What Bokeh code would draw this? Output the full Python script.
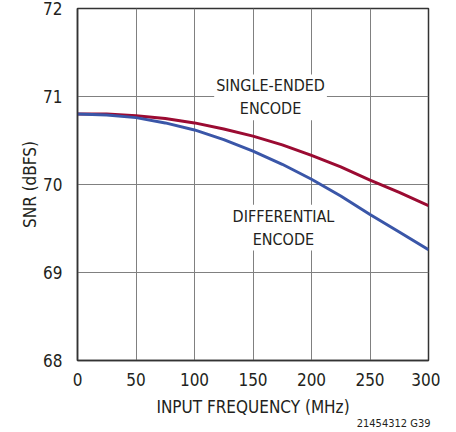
from bokeh.plotting import figure
from bokeh.models import Label, Range1d, FixedTicker, Title
from bokeh.embed import file_html
from bokeh.resources import INLINE

freq = [0, 25, 50, 75, 100, 125, 150, 175, 200, 225, 250, 275, 300]
snr_single = [70.80, 70.80, 70.78, 70.75, 70.70, 70.63, 70.55, 70.45, 70.33, 70.20, 70.05, 69.91, 69.76]
snr_diff = [70.80, 70.79, 70.76, 70.70, 70.62, 70.51, 70.38, 70.23, 70.06, 69.87, 69.66, 69.46, 69.26]
x_ticks = [0, 50, 100, 150, 200, 250, 300]
y_ticks = [68, 69, 70, 71, 72]

FONT = "'Liberation Sans Narrow', 'DejaVu Sans Condensed', 'Roboto', sans-serif"
TXT = "#231f20"
RED = "#9b0b32"
BLUE = "#3a56a8"

p = figure(frame_width=351, frame_height=352, output_backend="svg", toolbar_location=None,
           x_range=Range1d(0, 300), y_range=Range1d(68, 72),
           min_border_left=77, min_border_top=8, min_border_right=12, min_border_bottom=72)

p.outline_line_color = "#333333"
p.outline_line_width = 1.5
p.background_fill_color = "white"
p.border_fill_color = "white"

for ax in (p.xaxis[0], p.yaxis[0]):
    ax.axis_line_color = "#333333"
    ax.axis_line_width = 1.5
    ax.major_tick_line_color = None
    ax.minor_tick_line_color = None
    ax.major_label_text_font = FONT
    ax.major_label_text_font_size = "17px"
    ax.major_label_text_color = TXT
    ax.axis_label_text_font = FONT
    ax.axis_label_text_font_size = "17px"
    ax.axis_label_text_font_style = "normal"
    ax.axis_label_text_color = TXT

p.xaxis.ticker = FixedTicker(ticks=x_ticks)
p.yaxis.ticker = FixedTicker(ticks=y_ticks)
p.xaxis.axis_label = "INPUT FREQUENCY (MHz)"
p.yaxis.axis_label = "SNR (dBFS)"
p.xaxis.major_label_standoff = 6
p.yaxis.major_label_standoff = 9
p.xaxis.axis_label_standoff = 8
p.yaxis.axis_label_standoff = 0

p.xgrid.ticker = FixedTicker(ticks=x_ticks)
p.ygrid.ticker = FixedTicker(ticks=y_ticks)
p.grid.grid_line_color = "#808080"
p.grid.grid_line_width = 1
p.grid.grid_line_alpha = 1

p.line(freq, snr_single, line_color=RED, line_width=3)
p.line(freq, snr_diff, line_color=BLUE, line_width=3)

lab1 = Label(x=165, y=70.99, text="SINGLE-ENDED\nENCODE", text_align="center", text_baseline="middle",
             text_font=FONT, text_font_size="16px", text_color=TXT, text_line_height=1.2,
             background_fill_color="white", padding=2)
lab2 = Label(x=176, y=69.51, text="DIFFERENTIAL\nENCODE", text_align="center", text_baseline="middle",
             text_font=FONT, text_font_size="16px", text_color=TXT, text_line_height=1.2,
             background_fill_color="white", padding=2)
p.add_layout(lab1)
p.add_layout(lab2)

foot = Title(text="21454312 G39", align="right", text_font=FONT, text_font_size="11px",
             text_color=TXT, text_font_style="normal", offset=-2, standoff=-9)
p.add_layout(foot, "below")

open("out.html", "w").write(file_html(p, INLINE))
